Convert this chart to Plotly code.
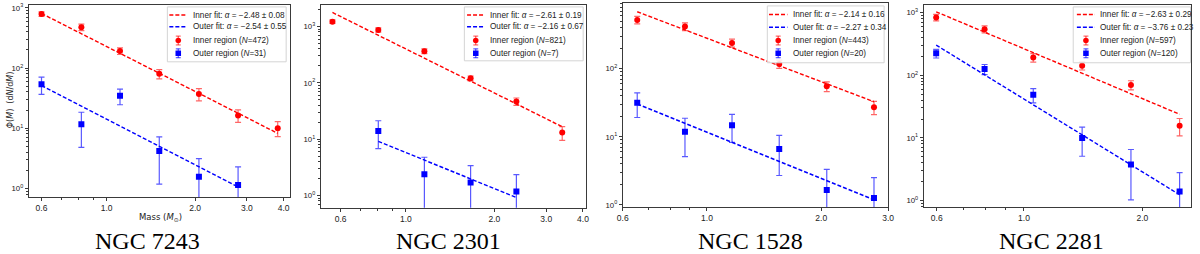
import numpy as np
import plotly.graph_objects as go

W, H = 1200, 254

# ---------------- data ----------------
titles = ["NGC 7243", "NGC 2301", "NGC 1528", "NGC 2281"]

# NGC 7243
ngc7243_inner_mass = [0.60, 0.82, 1.11, 1.51, 2.06, 2.80, 3.82]
ngc7243_inner_phi = [790, 478, 192, 80, 37, 16.3, 10.0]
ngc7243_inner_err = [70, 60, 24, 14, 8.5, 3.8, 2.8]
ngc7243_outer_mass = [0.60, 0.82, 1.11, 1.51, 2.06, 2.80]
ngc7243_outer_phi = [53.6, 11.6, 34.5, 4.17, 1.55, 1.13]
ngc7243_outer_err = [17, 6.8, 10, 3.0, 1.55, 1.13]
ngc7243_inner_fit_mass = [0.60, 3.82]
ngc7243_inner_fit_phi = [809, 8.2]
ngc7243_outer_fit_mass = [0.60, 2.80]
ngc7243_outer_fit_phi = [51, 1.05]

# NGC 2301
ngc2301_inner_mass = [0.563, 0.806, 1.156, 1.66, 2.375, 3.40]
ngc2301_inner_phi = [1220, 870, 365, 120, 46.7, 13.1]
ngc2301_inner_err = [90, 75, 35, 12, 7, 3.6]
ngc2301_outer_mass = [0.806, 1.156, 1.66, 2.375]
ngc2301_outer_phi = [14.0, 2.38, 1.69, 1.17]
ngc2301_outer_err = [7.2, 2.38, 1.69, 1.17]
ngc2301_inner_fit_mass = [0.563, 3.40]
ngc2301_inner_fit_phi = [1775, 16.6]
ngc2301_outer_fit_mass = [0.806, 2.375]
ngc2301_outer_fit_phi = [9.1, 0.92]

# NGC 1528
ngc1528_inner_mass = [0.655, 0.875, 1.164, 1.55, 2.068, 2.754]
ngc1528_inner_phi = [519, 416, 239, 117, 55, 27.2]
ngc1528_inner_err = [65, 55, 32, 16, 9, 6]
ngc1528_outer_mass = [0.655, 0.875, 1.164, 1.55, 2.068, 2.754]
ngc1528_outer_phi = [31.7, 11.9, 14.8, 6.6, 1.66, 1.26]
ngc1528_outer_err = [12.5, 6.8, 6.5, 3.9, 1.66, 1.26]
ngc1528_inner_fit_mass = [0.655, 2.754]
ngc1528_inner_fit_phi = [684, 32.7]
ngc1528_outer_fit_mass = [0.655, 2.754]
ngc1528_outer_fit_phi = [30.3, 1.19]

# NGC 2281
ngc2281_inner_mass = [0.598, 0.794, 1.056, 1.406, 1.871, 2.488]
ngc2281_inner_phi = [835, 542, 191, 142, 70, 15.6]
ngc2281_inner_err = [100, 70, 29, 21, 11.5, 4.8]
ngc2281_outer_mass = [0.598, 0.794, 1.056, 1.406, 1.871, 2.488]
ngc2281_outer_phi = [223, 125, 48.7, 10.0, 3.78, 1.40]
ngc2281_outer_err = [35, 23, 12.5, 4.9, 2.75, 1.40]
ngc2281_inner_fit_mass = [0.598, 2.488]
ngc2281_inner_fit_phi = [1025, 23.8]
ngc2281_outer_fit_mass = [0.598, 2.488]
ngc2281_outer_fit_phi = [302, 1.24]

inner_fit_labels = ["\u22122.48 \u00b1 0.08", "\u22122.61 \u00b1 0.19",
                    "\u22122.14 \u00b1 0.16", "\u22122.63 \u00b1 0.29"]
outer_fit_labels = ["\u22122.54 \u00b1 0.55", "\u22122.16 \u00b1 0.67",
                    "\u22122.27 \u00b1 0.34", "\u22123.76 \u00b1 0.23"]
inner_counts = [472, 821, 443, 597]
outer_counts = [31, 7, 20, 120]

x_tick_vals = [[0.6, 1.0, 2.0, 3.0, 4.0], [0.6, 1.0, 2.0, 3.0, 4.0],
               [0.6, 1.0, 2.0, 3.0], [0.6, 1.0, 2.0]]
x_tick_text = [[f"{v:.1f}" for v in vals] for vals in x_tick_vals]
y_tick_vals = [1, 10, 100, 1000]
y_tick_text = ["10<sup>0</sup>", "10<sup>1</sup>", "10<sup>2</sup>", "10<sup>3</sup>"]

data = [
    (ngc7243_inner_mass, ngc7243_inner_phi, ngc7243_inner_err,
     ngc7243_outer_mass, ngc7243_outer_phi, ngc7243_outer_err,
     ngc7243_inner_fit_mass, ngc7243_inner_fit_phi, ngc7243_outer_fit_mass, ngc7243_outer_fit_phi),
    (ngc2301_inner_mass, ngc2301_inner_phi, ngc2301_inner_err,
     ngc2301_outer_mass, ngc2301_outer_phi, ngc2301_outer_err,
     ngc2301_inner_fit_mass, ngc2301_inner_fit_phi, ngc2301_outer_fit_mass, ngc2301_outer_fit_phi),
    (ngc1528_inner_mass, ngc1528_inner_phi, ngc1528_inner_err,
     ngc1528_outer_mass, ngc1528_outer_phi, ngc1528_outer_err,
     ngc1528_inner_fit_mass, ngc1528_inner_fit_phi, ngc1528_outer_fit_mass, ngc1528_outer_fit_phi),
    (ngc2281_inner_mass, ngc2281_inner_phi, ngc2281_inner_err,
     ngc2281_outer_mass, ngc2281_outer_phi, ngc2281_outer_err,
     ngc2281_inner_fit_mass, ngc2281_inner_fit_phi, ngc2281_outer_fit_mass, ngc2281_outer_fit_phi),
]

# ---------------- layout geometry (pixels) ----------------
plot_boxes = [(23, 3, 287, 199), (318, 3, 586, 210), (623, 1, 891, 209), (927, 3, 1197, 209)]
x_ranges = [(0.543, 4.21), (0.514, 4.1), (0.6, 3.0), (0.556, 2.66)]
y_ranges = [(-0.147, 3.05), (-0.221, 3.383), (-0.029, 2.964), (-0.10, 3.12)]
title_pos = [(143, 244), (447, 244), (752, 244), (1056, 244)]
legend_boxes = [(163, 5, 283, 61), (463, 5, 583, 60), (769, 4, 887, 62), (1078, 5, 1196.5, 62)]
legend_rows = [[13.3, 25.3, 39.3, 52.3], [13.3, 25.3, 39.3, 52.3],
               [12.7, 25.7, 39.3, 52.3], [12.7, 25.7, 39.3, 52.3]]
legend_line_x = [(165, 183), (465.7, 483.3), (770.7, 789.3), (1081.7, 1100)]
legend_text_x = [187.3, 486.7, 792.7, 1102.7]

RED = "#ff0000"
BLUE = "#0000ff"
RED_ERR = "rgba(255,0,0,0.6)"
BLUE_ERR = "rgba(0,0,255,0.65)"
FRAME = "#3a3a3a"
XTICKFONT = dict(family="Liberation Sans, Arial, sans-serif", size=8.5, color="#222")
YTICKFONT = dict(family="Liberation Sans, Arial, sans-serif", size=7.8, color="#222")
LEGFONT = dict(family="Liberation Sans, Arial, sans-serif", size=8.2, color="#222")


def pxx(x):
    return x / W


def pxy(y):
    return 1 - y / H


fig = go.Figure()

minor_x = [0.5, 0.7, 0.8, 0.9, 5, 6, 7, 8, 9]
minor_y = [m * 10.0 ** k for k in range(-1, 4) for m in range(2, 10)]

for i in range(4):
    (im, ip, ie, om, op, oe, ifm, ifp, ofm, ofp) = data[i]
    xa = "x" if i == 0 else f"x{i+1}"
    ya = "y" if i == 0 else f"y{i+1}"
    fig.add_trace(go.Scatter(
        x=im, y=ip, mode="markers", xaxis=xa, yaxis=ya, showlegend=False,
        name=f"Inner region (N={inner_counts[i]})",
        marker=dict(color=RED, size=6, symbol="circle"),
        error_y=dict(type="data", array=ie, color=RED_ERR, thickness=1.2, width=3)))
    fig.add_trace(go.Scatter(
        x=om, y=op, mode="markers", xaxis=xa, yaxis=ya, showlegend=False,
        name=f"Outer region (N={outer_counts[i]})",
        marker=dict(color=BLUE, size=6, symbol="square"),
        error_y=dict(type="data", array=oe, color=BLUE_ERR, thickness=1.2, width=3)))
    fig.add_trace(go.Scatter(
        x=ifm, y=ifp, mode="lines", xaxis=xa, yaxis=ya, showlegend=False,
        name="Inner fit", line=dict(color=RED, width=1.4, dash="4px,2px")))
    fig.add_trace(go.Scatter(
        x=ofm, y=ofp, mode="lines", xaxis=xa, yaxis=ya, showlegend=False,
        name="Outer fit", line=dict(color=BLUE, width=1.4, dash="4px,2px")))

    x0, y0, x1, y1 = plot_boxes[i]
    axis_common = dict(
        type="log", showline=True, mirror=True, linecolor=FRAME, linewidth=1,
        ticks="outside", ticklen=3, tickwidth=1, tickcolor=FRAME,
        showgrid=False, zeroline=False, tickmode="array",
    )
    xkey = "xaxis" if i == 0 else f"xaxis{i+1}"
    ykey = "yaxis" if i == 0 else f"yaxis{i+1}"
    fig.update_layout(**{
        xkey: dict(axis_common, domain=[pxx(x0), pxx(x1)], anchor=ya, tickfont=XTICKFONT,
                   range=[np.log10(x_ranges[i][0]), np.log10(x_ranges[i][1])],
                   tickvals=x_tick_vals[i], ticktext=x_tick_text[i],
                   ticklabeloverflow="allow",
                   minor=dict(tickvals=minor_x, ticks="outside", ticklen=1.8,
                              tickcolor=FRAME, showgrid=False)),
        ykey: dict(axis_common, domain=[pxy(y1), pxy(y0)], anchor=xa, tickfont=YTICKFONT,
                   range=list(y_ranges[i]),
                   tickvals=y_tick_vals, ticktext=y_tick_text,
                   minor=dict(tickvals=minor_y, ticks="outside", ticklen=1.8,
                              tickcolor=FRAME, showgrid=False)),
    })

shapes = []
annotations = []

for i in range(4):
    # panel title
    tx, ty = title_pos[i]
    annotations.append(dict(x=pxx(tx), y=pxy(ty), xref="paper", yref="paper",
                            text=titles[i], showarrow=False, xanchor="center", yanchor="middle",
                            font=dict(family="Liberation Serif, Times New Roman, serif", size=24, color="#000")))
    # legend box
    bx0, by0, bx1, by1 = legend_boxes[i]
    shapes.append(dict(type="rect", xref="paper", yref="paper",
                       x0=pxx(bx0), x1=pxx(bx1), y0=pxy(by1), y1=pxy(by0),
                       fillcolor="rgba(255,255,255,0.85)", line=dict(color="#d4d4d4", width=1)))
    r = legend_rows[i]
    lx0, lx1 = legend_line_x[i]
    mx = (lx0 + lx1) / 2
    for row, col in ((0, RED), (1, BLUE)):
        shapes.append(dict(type="line", xref="paper", yref="paper",
                           x0=pxx(lx0), x1=pxx(lx1), y0=pxy(r[row]), y1=pxy(r[row]),
                           line=dict(color=col, width=1.4, dash="4px,2px")))
    for row, col, ecol, kind in ((2, RED, RED_ERR, "circle"), (3, BLUE, BLUE_ERR, "rect")):
        yc = r[row]
        shapes.append(dict(type="line", xref="paper", yref="paper",
                           x0=pxx(mx), x1=pxx(mx), y0=pxy(yc - 4.5), y1=pxy(yc + 4.5),
                           line=dict(color=ecol, width=1.2)))
        for yy in (yc - 4.5, yc + 4.5):
            shapes.append(dict(type="line", xref="paper", yref="paper",
                               x0=pxx(mx - 2.5), x1=pxx(mx + 2.5), y0=pxy(yy), y1=pxy(yy),
                               line=dict(color=ecol, width=1.2)))
        shapes.append(dict(type=kind, xref="paper", yref="paper",
                           x0=pxx(mx - 2.8), x1=pxx(mx + 2.8), y0=pxy(yc + 2.8), y1=pxy(yc - 2.8),
                           fillcolor=col, line=dict(color=col, width=0)))
    texts = [f"Inner fit: <i>\u03b1</i> = {inner_fit_labels[i]}",
             f"Outer fit: <i>\u03b1</i> = {outer_fit_labels[i]}",
             f"Inner region (<i>N</i>={inner_counts[i]})",
             f"Outer region (<i>N</i>={outer_counts[i]})"]
    for row, t in enumerate(texts):
        annotations.append(dict(x=pxx(legend_text_x[i]), y=pxy(r[row]), xref="paper", yref="paper",
                                text=t, showarrow=False, xanchor="left", yanchor="middle",
                                font=LEGFONT))

# axis labels on the first panel
annotations.append(dict(x=pxx(156), y=pxy(219.5), xref="paper", yref="paper",
                        text="Mass (<i>M</i><sub>\u2299</sub>)", showarrow=False,
                        xanchor="center", yanchor="middle",
                        font=dict(family="DejaVu Sans, sans-serif", size=8.5, color="#222")))
annotations.append(dict(x=pxx(4.2), y=pxy(100), xref="paper", yref="paper",
                        text="\u03a6(<i>M</i>)  (d<i>N</i>/d<i>M</i>)", showarrow=False, textangle=-90,
                        xanchor="center", yanchor="middle",
                        font=dict(family="DejaVu Sans, sans-serif", size=8, color="#222")))

fig.update_layout(
    width=W, height=H, margin=dict(l=0, r=0, t=0, b=0),
    paper_bgcolor="white", plot_bgcolor="white", showlegend=False,
    shapes=shapes, annotations=annotations,
)

fig.write_html(
    "out.html",
    config={"displayModeBar": False},
    post_script="document.body.style.margin='0';document.body.style.padding='0';"
                "document.body.style.overflow='hidden';",
)
